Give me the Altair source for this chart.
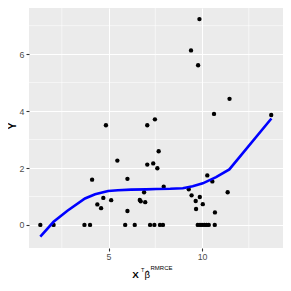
import altair as alt
import pandas as pd

# scatter points
pt_x = [1.35, 2.06, 3.71, 4.01, 5.89, 6.40, 7.22, 7.45, 7.75, 7.91,
        9.77, 9.89, 10.00, 10.12, 10.24, 10.36, 10.68,
        4.12, 4.40, 4.60, 4.72, 4.86, 5.14, 5.47, 6.01, 6.01, 6.67, 6.72,
        6.96, 6.90, 7.07, 7.07, 7.39, 7.48, 7.61, 7.68, 7.95, 9.29, 9.41,
        9.44, 9.66, 9.68, 9.79, 9.86, 9.88, 10.04, 10.28, 10.55, 10.64,
        10.69, 11.37, 11.47, 13.70]
pt_y = [0, 0, 0, 0, 0, 0, 0, 0, 0, 0,
        0, 0, 0, 0, 0, 0, 0,
        1.59, 0.72, 0.59, 0.95, 3.50, 0.87, 2.26, 1.62, 0.49, 0.88, 0.83,
        0.80, 1.15, 3.50, 2.12, 2.16, 3.71, 1.99, 2.59, 1.34, 1.25, 6.13,
        1.04, 0.84, 0.56, 5.61, 7.23, 0.98, 0.73, 1.74, 1.53, 3.90,
        0.44, 1.15, 4.43, 3.86]

# fitted curve
fit_x = [1.35, 2.06, 2.8, 3.74, 4.28, 4.98, 5.5, 6.2, 7.0, 7.55, 8.3,
         8.97, 9.5, 10.04, 10.75, 11.46, 13.71]
fit_y = [-0.41, 0.11, 0.50, 0.93, 1.08, 1.19, 1.22, 1.24, 1.25, 1.26,
         1.27, 1.29, 1.36, 1.46, 1.68, 1.95, 3.74]

x_major = [5, 10]
y_major = [0, 2, 4, 6]
x_minor = [2.5, 7.5, 12.5]
y_minor = [1, 3, 5, 7]

X_DOM = [0.745, 14.33]
Y_DOM = [-0.81, 7.62]

xs = alt.Scale(domain=X_DOM, nice=False, zero=False)
ys = alt.Scale(domain=Y_DOM, nice=False, zero=False)

axis_common = dict(domain=False, grid=True, gridColor="white", gridWidth=1.1,
                   tickColor="#333333", tickSize=3, tickWidth=1.1,
                   labelColor="#4D4D4D", labelFontSize=8.8,
                   labelFont="Liberation Sans", title=None)

pts = pd.DataFrame({"x": pt_x, "y": pt_y})
fit = pd.DataFrame({"x": fit_x, "y": fit_y})

vgrid = alt.Chart(pd.DataFrame({"x": x_minor})).mark_rule(
    color="white", strokeWidth=0.55).encode(
    x=alt.X("x:Q", scale=xs, axis=alt.Axis(values=x_major, labelPadding=1, **axis_common)))
hgrid = alt.Chart(pd.DataFrame({"y": y_minor})).mark_rule(
    color="white", strokeWidth=0.55).encode(
    y=alt.Y("y:Q", scale=ys, axis=alt.Axis(values=y_major, labelPadding=2, **axis_common)))

points = alt.Chart(pts).mark_circle(color="black", size=19, opacity=1).encode(
    x=alt.X("x:Q", scale=xs), y=alt.Y("y:Q", scale=ys))
line = alt.Chart(fit).mark_line(color="#0000FF", strokeWidth=2.6).encode(
    x=alt.X("x:Q", scale=xs), y=alt.Y("y:Q", scale=ys))

dummy = pd.DataFrame({"d": [0]})
F = "Liberation Sans"

def txt(s, x, y, size, bold=False, angle=0, align="left"):
    kw = dict(text=s, font=F, fontSize=size, align=align, baseline="alphabetic",
              color="black")
    if bold:
        kw["fontWeight"] = "bold"
    if angle:
        kw["angle"] = angle
    return alt.Chart(dummy).mark_text(**kw).encode(x=alt.value(x), y=alt.value(y))

titles = [
    txt("X", 103.3, 270.3, 9.8, bold=True),
    txt("T", 112, 264.3, 5.6),
    txt("β", 115.5, 270.0, 9.6),
    txt("^", 118.5, 266.5, 6.5, align="center"),
    txt("RMRCE", 121.5, 262.3, 6.0),
    alt.Chart(dummy).mark_text(text="Y", font=F, fontSize=10.5, fontWeight="bold",
                               angle=270, align="center", baseline="middle",
                               color="black").encode(x=alt.value(-16), y=alt.value(118)),
]

chart = alt.layer(vgrid, hgrid, points, line, *titles).properties(
    width=254, height=240,
    autosize=alt.AutoSizeParams(type="none"),
    padding={"left": 21, "top": 0, "right": 0, "bottom": 35},
    background="white",
).configure_view(fill="#EBEBEB", strokeWidth=0)

chart.save("out.html", embed_options={"renderer": "svg", "actions": False})
